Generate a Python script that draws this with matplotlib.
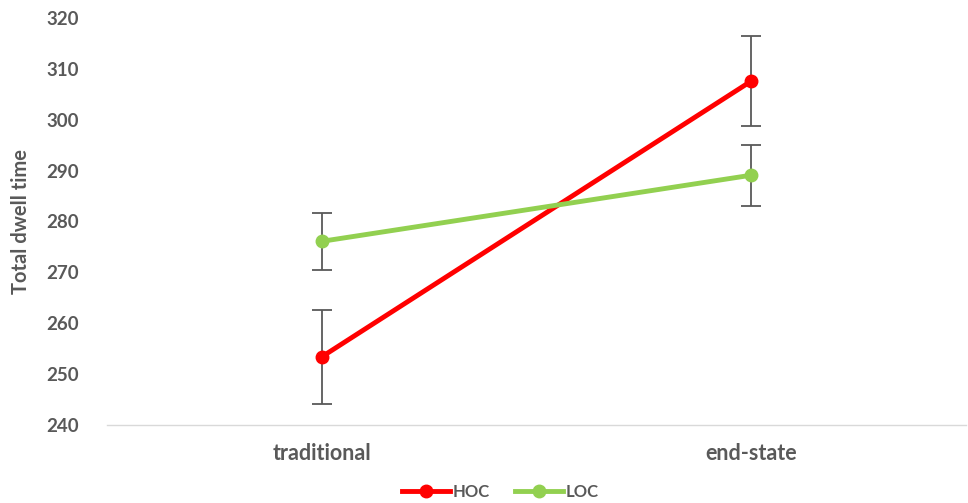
import matplotlib
matplotlib.use("Agg")
import matplotlib.pyplot as plt
from matplotlib.lines import Line2D
import numpy as np

# data
categories = ["traditional", "end-state"]
hoc = [253.4, 307.6]
hoc_err = [9.3, 8.8]
loc = [276.1, 289.1]
loc_err = [5.6, 6.0]

plt.rcParams['font.family'] = ['Lato', 'DejaVu Sans']
txt = '#595959'

fig = plt.figure(figsize=(9.68, 5.03), dpi=100)
ax = fig.add_axes([107/968, 78/503, 859/968, 407/503])

x = np.arange(len(categories))
handles = []
for vals, err, col, name in [(hoc, hoc_err, '#FF0000', 'HOC'),
                             (loc, loc_err, '#92D050', 'LOC')]:
    ax.errorbar(x, vals, yerr=err, color=col, lw=3.5, marker='o', ms=9,
                ecolor='#595959', elinewidth=1.3, capsize=7, capthick=1.3,
                zorder=3)
    handles.append(Line2D([], [], color=col, lw=3.5, marker='o', ms=9, label=name))

ax.set_xlim(-0.5, 1.5)
ax.set_ylim(240, 320)
ax.set_yticks(np.arange(240, 321, 10))
ax.set_xticks(x)
ax.set_xticklabels(categories)
for s in ['top', 'right', 'left']:
    ax.spines[s].set_visible(False)
ax.spines['bottom'].set_color('#D9D9D9')
ax.spines['bottom'].set_linewidth(1)
ax.tick_params(axis='both', length=0, labelcolor=txt)
ax.tick_params(axis='x', pad=13, labelsize=15.5)
ax.tick_params(axis='y', pad=20, labelsize=13.5)
for lab in ax.get_xticklabels() + ax.get_yticklabels():
    lab.set_fontweight('bold')
ax.set_ylabel("Total dwell time", fontsize=14.5, fontweight='bold', color=txt, labelpad=11)

leg = ax.legend(handles=handles, loc='center', bbox_to_anchor=(0.458, -0.165), ncol=2,
                frameon=False, fontsize=12, handlelength=2.9, columnspacing=1.5,
                handletextpad=0.15)
for t in leg.get_texts():
    t.set_color(txt)
    t.set_fontweight('bold')

fig.savefig("out.png", dpi=100)
